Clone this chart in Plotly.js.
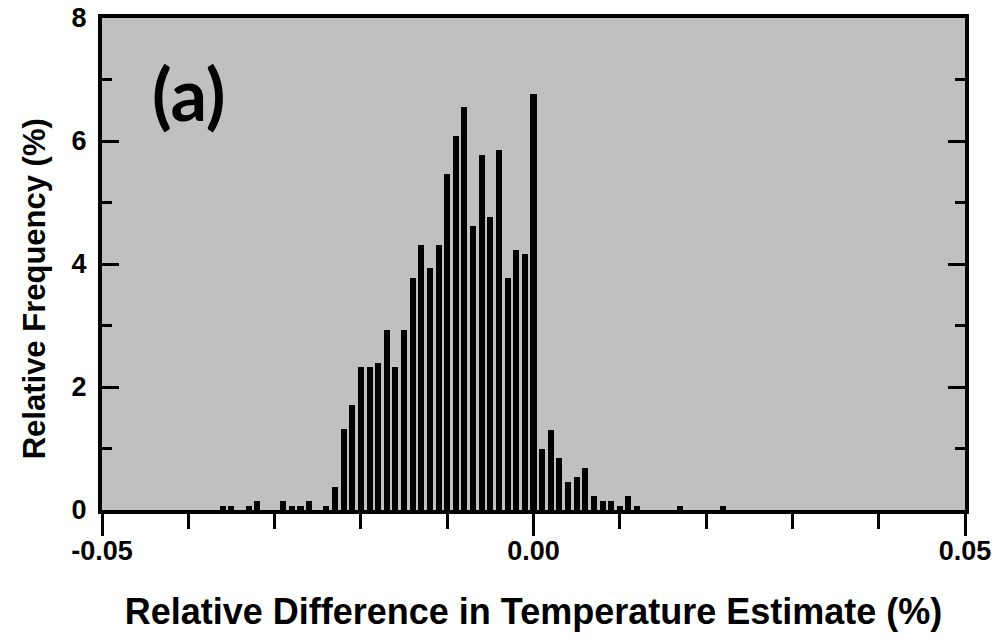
<!DOCTYPE html>
<html>
<head>
<meta charset="utf-8">
<script src="https://cdn.plot.ly/plotly-3.0.1.min.js"></script>
<style>html,body{margin:0;padding:0;background:#fff;}#chart{width:1005px;height:641px;}</style>
</head>
<body>
<div id="chart"></div>
<script>
const binCenters = [-0.036,-0.035,-0.033,-0.032,-0.029,-0.028,-0.027,-0.026,-0.024,-0.023,-0.022,-0.021,-0.020,-0.019,-0.018,-0.017,-0.016,-0.015,-0.014,-0.013,-0.012,-0.011,-0.010,-0.009,-0.008,-0.007,-0.006,-0.005,-0.004,-0.003,-0.002,-0.001,0.000,0.001,0.002,0.003,0.004,0.005,0.006,0.007,0.008,0.009,0.010,0.011,0.012,0.017,0.022];
const relFrequency = [0.07,0.07,0.07,0.15,0.15,0.07,0.07,0.15,0.07,0.38,1.31,1.70,2.32,2.32,2.39,2.93,2.32,2.93,3.78,4.31,3.93,4.31,5.47,6.08,6.56,4.62,5.78,4.77,5.85,3.78,4.23,4.16,6.77,1.00,1.30,0.84,0.45,0.53,0.69,0.22,0.15,0.15,0.07,0.22,0.07,0.07,0.07];
const xTickVals = [-0.05, 0.00, 0.05];
const xTickText = ['-0.05', '0.00', '0.05'];
const yTickVals = [0, 2, 4, 6, 8];
const yTickText = ['0', '2', '4', '6', '8'];
const xTitle = 'Relative Difference in Temperature Estimate (%)';
const yTitle = 'Relative Frequency (%)';
const panelLabel = '(a)';

const fam = 'Liberation Sans, Arial, sans-serif';
const tickFont = {family: fam, size: 27, color: '#000', weight: 'bold'};

const trace = {
  type: 'bar',
  x: binCenters,
  y: relFrequency,
  width: 0.0007,
  marker: {color: '#000', line: {width: 0}},
  hoverinfo: 'x+y'
};

const layout = {
  width: 1005, height: 641,
  margin: {l: 102, r: 40, t: 18, b: 131},
  paper_bgcolor: '#fff',
  plot_bgcolor: '#c0c0c0',
  showlegend: false,
  bargap: 0,
  xaxis: {
    range: [-0.05, 0.05],
    tickvals: xTickVals, ticktext: xTickText,
    ticks: 'outside', ticklen: 22, tickwidth: 3, tickcolor: '#000',
    minor: {dtick: 0.01, tick0: 0, ticks: 'outside', ticklen: 15, tickwidth: 3, tickcolor: '#000', showgrid: false},
    showline: true, linewidth: 4, linecolor: '#000', mirror: true,
    showgrid: false, zeroline: false,
    tickfont: tickFont,
    ticklabelstandoff: -8,
    title: {text: xTitle, font: {family: fam, size: 36, color: '#000', weight: 'bold'}, standoff: 34},
    automargin: false
  },
  yaxis: {
    range: [0, 8],
    tickvals: yTickVals, ticktext: yTickText,
    ticks: 'inside', ticklen: 17, tickwidth: 3, tickcolor: '#000',
    minor: {dtick: 1, tick0: 0, ticks: 'inside', ticklen: 10, tickwidth: 3, tickcolor: '#000', showgrid: false},
    showline: true, linewidth: 4, linecolor: '#000', mirror: 'allticks',
    showgrid: false, zeroline: false,
    tickfont: tickFont,
    ticklabelstandoff: 6,
    automargin: false
  },
  annotations: [{
    text: panelLabel, xref: 'paper', yref: 'paper',
    x: 0.056, y: 0.848, xanchor: 'left', yanchor: 'middle',
    showarrow: false,
    font: {family: 'Lato, Open Sans, sans-serif', size: 72, color: '#000', weight: 'bold'}
  }, {
    text: yTitle, xref: 'paper', yref: 'paper',
    x: -0.078, y: 0.45, xanchor: 'center', yanchor: 'middle', textangle: -90,
    showarrow: false,
    font: {family: fam, size: 31, color: '#000', weight: 'bold'}
  }]
};

Plotly.newPlot('chart', [trace], layout, {staticPlot: true, displayModeBar: false});
</script>
</body>
</html>
